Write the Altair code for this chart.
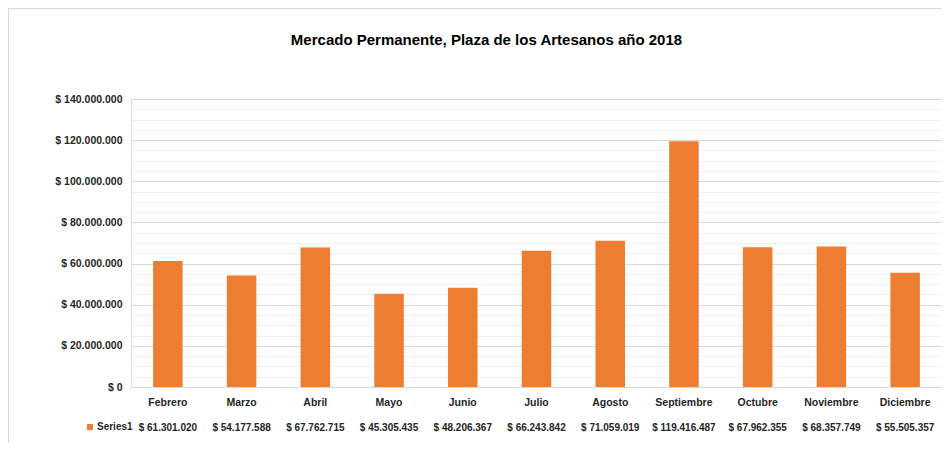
import altair as alt
import pandas as pd

months = ["Febrero", "Marzo", "Abril", "Mayo", "Junio", "Julio", "Agosto",
          "Septiembre", "Octubre", "Noviembre", "Diciembre"]
values = [61301020, 54177588, 67762715, 45305435, 48206367, 66243842,
          71059019, 119416487, 67962355, 68357749, 55505357]
series = ["Series1"] * len(months)
y_ticks = list(range(0, 140000001, 5000000))

TITLE = "Mercado Permanente, Plaza de los Artesanos año 2018"
FONT = "Liberation Sans, Arial, sans-serif"
ORANGE = "#ED7D31"
TXT = "#262626"

df = pd.DataFrame({"mes": months, "valor": values, "serie": series})
df["etiqueta"] = ["$ " + f"{v:,}".replace(",", ".") for v in values]

W, H = 811, 288

x_enc = alt.X("mes:N", sort=months,
              scale=alt.Scale(paddingInner=0.6, paddingOuter=0.3),
              axis=alt.Axis(title=None, labelAngle=0, ticks=False, domain=False,
                            labelPadding=10, labelFont=FONT, labelFontSize=10.5,
                            labelFontWeight="bold", labelColor=TXT))

bars = alt.Chart(df).mark_bar().encode(
    x=x_enc,
    y=alt.Y("valor:Q", scale=alt.Scale(domain=[0, 140000000], nice=False),
            axis=alt.Axis(title=None, values=y_ticks, domain=False, ticks=False,
                          labelPadding=9, labelFont=FONT, labelFontSize=10.5,
                          labelFontWeight="bold", labelColor=TXT,
                          labelExpr="datum.value % 20000000 === 0 ? '$ ' + replace(format(datum.value, ',d'), regexp(',', 'g'), '.') : ''",
                          gridColor=alt.condition("datum.value % 20000000 === 0",
                                                  alt.value("#d9d9d9"), alt.value("#f0f0f0")),
                          gridWidth=1)),
    color=alt.Color("serie:N", scale=alt.Scale(domain=["Series1"], range=[ORANGE]),
                    legend=alt.Legend(title=None, orient="none", legendX=-46, legendY=H + 35,
                                      padding=0, symbolType="square", symbolSize=36,
                                      symbolStrokeWidth=0,
                                      labelFont=FONT, labelFontSize=10,
                                      labelFontWeight="bold", labelColor=TXT,
                                      labelOffset=2)),
)

table = alt.Chart(df).mark_text(font=FONT, fontSize=10, fontWeight="bold",
                                color=TXT, baseline="middle").encode(
    x=alt.X("mes:N", sort=months),
    y=alt.value(H + 41),
    text="etiqueta:N",
)

border = alt.Chart(df).mark_rect(fill=None, stroke="#d9d9d9", strokeWidth=1.5).encode(
    x=alt.value(-123), x2=alt.value(W + 40),
    y=alt.value(-91), y2=alt.value(H + 120),
)

chart = alt.layer(border, bars, table).properties(
    width=W, height=H,
    title=alt.TitleParams(TITLE, font=FONT, fontSize=15, fontWeight="bold",
                          color="#000000", anchor="middle", frame="group",
                          dx=-50, offset=-41),
    autosize=alt.AutoSizeParams(type="none"),
    padding={"left": 123, "top": 91, "right": 0, "bottom": 56},
).configure_view(stroke=None).configure(background="white")

chart.save("out.html", embed_options={"renderer": "svg", "actions": False})
